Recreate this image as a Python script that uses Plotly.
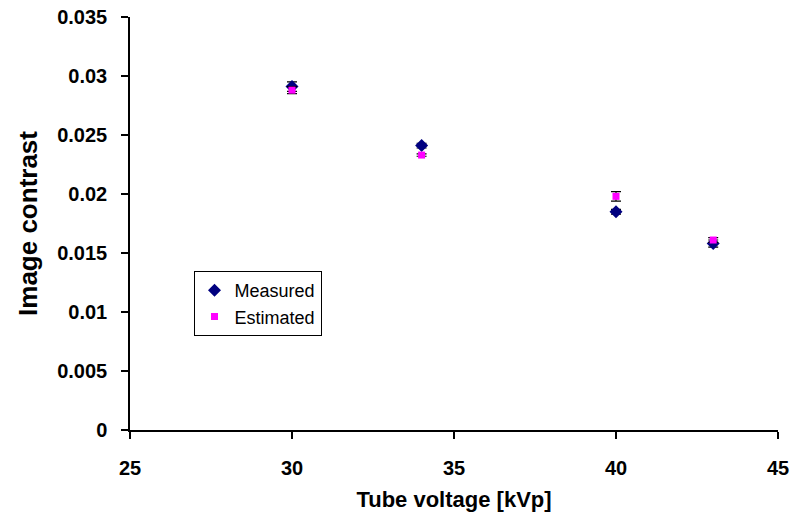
import plotly.graph_objects as go

# Tube voltage settings and image contrast values
kvp = [30, 34, 40, 43]
measured = [0.0291, 0.0241, 0.0185, 0.0158]
measured_err = [0.0004, 0.0002, 0.0002, 0.0003]
estimated = [0.0288, 0.0233, 0.0198, 0.0161]
estimated_err = [0.0003, 0.0001, 0.0004, 0.0002]

x_ticks = [25, 30, 35, 40, 45]
y_ticks = [0, 0.005, 0.01, 0.015, 0.02, 0.025, 0.03, 0.035]
y_tick_text = ["0", "0.005", "0.01", "0.015", "0.02", "0.025", "0.03", "0.035"]

fig = go.Figure()
fig.add_trace(go.Scatter(
    x=kvp, y=measured, mode="markers", name="Measured",
    marker=dict(symbol="diamond", size=10, color="#000080"),
    error_y=dict(type="data", array=measured_err, color="black", thickness=1.2, width=5),
))
fig.add_trace(go.Scatter(
    x=kvp, y=estimated, mode="markers", name="Estimated",
    marker=dict(symbol="square", size=7, color="#FF00FF"),
    error_y=dict(type="data", array=estimated_err, color="black", thickness=1.2, width=5),
))

fig.update_layout(
    width=793, height=518,
    margin=dict(l=130, r=15, t=17, b=88),
    paper_bgcolor="white", plot_bgcolor="white",
    font=dict(family="Liberation Sans, Arial", color="black"),
    showlegend=True,
    legend=dict(
        x=0.098, y=0.385, xanchor="left", yanchor="top",
        bordercolor="black", borderwidth=1, bgcolor="white",
        font=dict(size=18, family="Liberation Sans, Arial"),
        itemwidth=30, tracegroupgap=2,
    ),
    xaxis=dict(
        range=[25, 45], tickvals=x_ticks, ticktext=[str(v) for v in x_ticks],
        showline=True, linecolor="black", linewidth=1.5,
        ticks="outside", ticklen=7, tickcolor="black", tickwidth=1.5,
        showgrid=False, zeroline=False, ticklabelstandoff=12, automargin=False,
        tickfont=dict(size=20, family="Liberation Sans, Arial", weight="bold"),
        title=dict(text="<b>Tube voltage [kVp]</b>", font=dict(size=22), standoff=14),
    ),
    yaxis=dict(
        range=[0, 0.035], tickvals=y_ticks, ticktext=y_tick_text,
        showline=True, linecolor="black", linewidth=1.5,
        ticks="outside", ticklen=7, tickcolor="black", tickwidth=1.5,
        showgrid=False, zeroline=False, ticklabelstandoff=10, automargin=False,
        tickfont=dict(size=20, family="Liberation Sans, Arial", weight="bold"),
        title=dict(text="<b>Image contrast</b>", font=dict(size=26), standoff=12),
    ),
)

fig.write_html("out.html")
